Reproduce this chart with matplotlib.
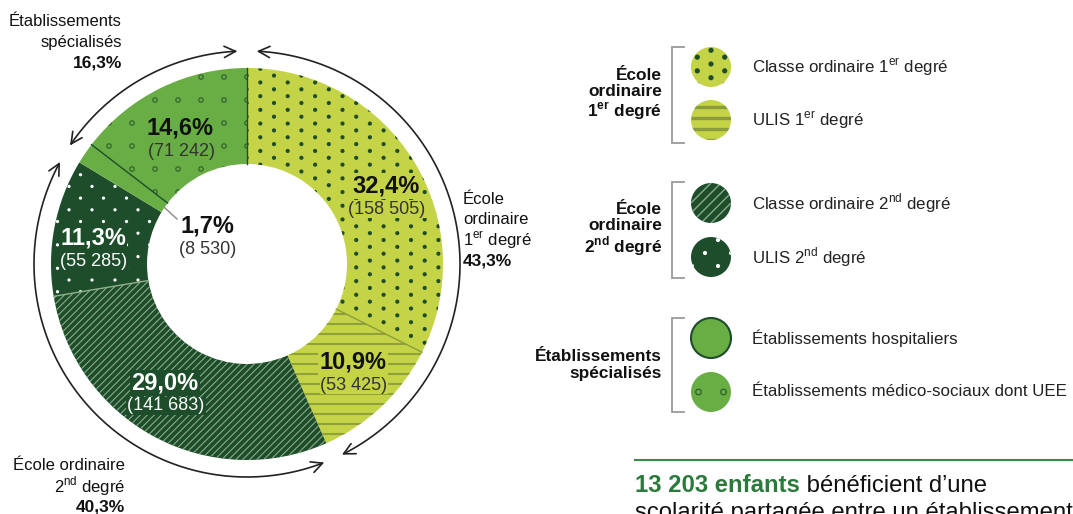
import matplotlib.pyplot as plt
import numpy as np
from matplotlib.patches import Circle, FancyArrowPatch
from matplotlib.path import Path
from matplotlib.collections import LineCollection

plt.rcParams['font.family'] = ['Liberation Sans', 'DejaVu Sans']
plt.rcParams['mathtext.fontset'] = 'custom'
plt.rcParams['mathtext.rm'] = 'Liberation Sans'
plt.rcParams['mathtext.bf'] = 'Liberation Sans:bold'

W, H = 1073, 514

# --- data -------------------------------------------------------------
categories = ['Classe ordinaire 1$^{\\mathrm{er}}$ degré', 'ULIS 1$^{\\mathrm{er}}$ degré',
              'Classe ordinaire 2$^{\\mathrm{nd}}$ degré', 'ULIS 2$^{\\mathrm{nd}}$ degré',
              'Établissements hospitaliers', 'Établissements médico-sociaux dont UEE']
effectifs = [158505, 53425, 141683, 55285, 8530, 71242]
pourcentages = ['32,4%', '10,9%', '29,0%', '11,3%', '1,7%', '14,6%']
effectifs_txt = ['(158 505)', '(53 425)', '(141 683)', '(55 285)', '(8 530)', '(71 242)']

groupes = ['École\nordinaire\n1$^{\\mathbf{er}}$ degré',
           'École\nordinaire\n2$^{\\mathbf{nd}}$ degré',
           'Établissements\nspécialisés']
groupes_externes = [['École', 'ordinaire', '1$^{\\mathrm{er}}$ degré'],
                    ['École ordinaire', '2$^{\\mathrm{nd}}$ degré'],
                    ['Établissements', 'spécialisés']]
groupes_pct = ['43,3%', '40,3%', '16,3%']
groupes_membres = [[0, 1], [2, 3], [4, 5]]

note_chiffre = '13 203 enfants'
note_suite = ' bénéficient d’une'
note_ligne2 = 'scolarité partagée entre un établissement'

# --- styles -----------------------------------------------------------
CLAIR = '#c5d447'
MOYEN = '#69ad45'
FONCE = '#1d4d2a'
couleurs = [CLAIR, CLAIR, FONCE, FONCE, MOYEN, MOYEN]
couleurs_txt = ['#111111', '#111111', 'white', 'white', '#111111', '#111111']
bordures = ['#8a9c3c', None, '#8fae8c', None, FONCE, FONCE]


def Y(py):
    return H - py


def grille(bbox, dx, dy, ox=0.0, oy=0.0, decale=True):
    pts = []
    j0 = int(np.floor((bbox.y0 - oy) / dy)) - 1
    j1 = int(np.ceil((bbox.y1 - oy) / dy)) + 1
    for j in range(j0, j1 + 1):
        y = oy + j * dy
        dec = (j % 2) * dx / 2 if decale else 0.0
        i0 = int(np.floor((bbox.x0 - ox) / dx)) - 1
        i1 = int(np.ceil((bbox.x1 - ox) / dx)) + 1
        for i in range(i0, i1 + 1):
            pts.append((ox + i * dx + dec, y))
    return np.array(pts)


def emprise(patch):
    return patch.get_path().transformed(patch.get_patch_transform()).get_extents()


def points(ax, patch, dx, dy, taille, face, bord='none', lw=0, ox=0.0, oy=0.0, decale=True):
    p = grille(emprise(patch), dx, dy, ox, oy, decale)
    sc = ax.scatter(p[:, 0], p[:, 1], s=taille, c=face, edgecolors=bord,
                    linewidths=lw, zorder=patch.get_zorder() + 0.1)
    sc.set_clip_path(patch)


def rayures(ax, patch, pas, couleur, lw, diag=False):
    b = emprise(patch)
    if diag:
        cs = np.arange(b.y0 - b.x1 - pas, b.y1 - b.x0 + pas, pas)
        segs = [[(b.x0, b.x0 + c), (b.x1, b.x1 + c)] for c in cs]
    else:
        ys = np.arange(np.floor(b.y0 / pas) * pas, b.y1 + pas, pas)
        segs = [[(b.x0, y), (b.x1, y)] for y in ys]
    lc = LineCollection(segs, colors=couleur, linewidths=lw,
                        zorder=patch.get_zorder() + 0.1)
    ax.add_collection(lc)
    lc.set_clip_path(patch)


fig = plt.figure(figsize=(W / 100, H / 100), dpi=100)
ax = fig.add_axes([0, 0, 1, 1])

cx, cy = 247, Y(264)
R, R_IN, R_ARC = 196, 100, 213
total = sum(effectifs)

wedges, _ = ax.pie(effectifs, radius=R, center=(cx, cy), startangle=90,
                   counterclock=False, colors=couleurs,
                   wedgeprops=dict(width=R - R_IN, linewidth=0))
ax.set_xlim(0, W)
ax.set_ylim(0, H)
ax.axis('off')

# slice textures
points(ax, wedges[0], 27.4, 6.85, 9, FONCE)
rayures(ax, wedges[1], 10, '#90a13b', 1.5)
rayures(ax, wedges[2], 7, '#92b190', 0.75, diag=True)
points(ax, wedges[3], 23, 11.7, 5.5, 'white')
points(ax, wedges[5], 23, 23, 10, 'none', bord='#2f5e2c', lw=0.8, ox=cx, decale=False)

# boundaries between slices
cum = np.cumsum(effectifs) / total
for k, c in enumerate(cum):
    if bordures[k] is None:
        continue
    t = np.radians(90 - 360 * c)
    ax.plot([cx + R_IN * np.cos(t), cx + R * np.cos(t)],
            [cy + R_IN * np.sin(t), cy + R * np.sin(t)],
            color=bordures[k], lw=1.0, zorder=3)

# slice labels
pos_labels = [(386, 186), (353, 362), (165, 383), (93, 238), (207, 226), (180, 128)]
for k, (px, py) in enumerate(pos_labels):
    fond = couleurs[k] if k != 4 else 'white'
    ax.text(px, Y(py), pourcentages[k], ha='center', va='center', fontsize=17,
            fontweight='bold', color=couleurs_txt[k], zorder=5,
            bbox=dict(boxstyle='square,pad=0.05', fc=fond, ec='none'))
    ax.text(px + 1, Y(py + 23), effectifs_txt[k], ha='center', va='center',
            fontsize=13, color=couleurs_txt[k] if k in (2, 3) else '#333333',
            zorder=5, bbox=dict(boxstyle='square,pad=0.05', fc=fond, ec='none'))

# leader line for the small slice
debut = cum[3]
t = np.radians(90 - 360 * (debut + (cum[4] - debut) / 2))
ax.plot([cx + R_IN * np.cos(t), 177], [cy + R_IN * np.sin(t), Y(219)],
        color='#8a8a8a', lw=1.0, zorder=4)

# outer arrows for the three groups
bornes = [0.0] + [sum(effectifs[i] for i in g) for g in groupes_membres]
bornes = np.cumsum(bornes) / total
gap = 2.6
for g in range(3):
    a0 = 360 * bornes[g] + gap
    a1 = 360 * bornes[g + 1] - gap
    th = np.radians(90 - np.linspace(a0, a1, 120))
    arc = Path(np.column_stack([cx + R_ARC * np.cos(th), cy + R_ARC * np.sin(th)]))
    ax.add_patch(FancyArrowPatch(path=arc, arrowstyle='<->,head_length=0.9,head_width=0.45',
                                 mutation_scale=9, lw=1.2, color='#222222', zorder=4))

# outer group labels
ext_pos = [(463, 199, 'left'), (125, 466, 'right'), (122, 22, 'right')]
for g, (px, py, ha) in enumerate(ext_pos):
    lignes = groupes_externes[g]
    for i, l in enumerate(lignes):
        ax.text(px, Y(py + 20.5 * i), l, ha=ha, va='center', fontsize=12, color='#111111')
    ax.text(px, Y(py + 20.5 * len(lignes)), groupes_pct[g], ha=ha, va='center',
            fontsize=12.5, fontweight='bold', color='#111111')

# legend
leg_y = [67, 120, 203, 257, 338, 392]
leg_x = 711
for k, py in enumerate(leg_y):
    c = Circle((leg_x, Y(py)), 20, fc=couleurs[k],
               ec=FONCE if k == 4 else 'none', lw=1.5 if k == 4 else 0, zorder=3)
    ax.add_patch(c)
    if k == 0:
        points(ax, c, 27.4, 6.85, 14, FONCE, ox=leg_x, oy=Y(py) + 3)
    elif k == 1:
        rayures(ax, c, 11, '#8a9c3c', 2.4)
    elif k == 2:
        rayures(ax, c, 10, '#8cab8a', 1.0, diag=True)
    elif k == 3:
        points(ax, c, 26, 13, 9, 'white', ox=leg_x - 6, oy=Y(py) + 4)
    elif k == 5:
        points(ax, c, 25, 200, 16, 'none', bord='#2f5e2c', lw=0.9,
               ox=leg_x - 12.5, oy=Y(py), decale=False)
    ax.text(752, Y(py), categories[k], ha='left', va='center', fontsize=12.2,
            color='#222222')

crochets = [(47, 143), (182, 278), (318, 412)]
for g, (y0, y1) in enumerate(crochets):
    ax.plot([684, 672, 672, 684], [Y(y0), Y(y0), Y(y1), Y(y1)],
            color='#9a9a9a', lw=1.3, solid_joinstyle='miter')
    ax.text(662, Y((y0 + y1) / 2), groupes[g], ha='right', va='center',
            multialignment='right', fontsize=12.4, fontweight='bold',
            color='#111111', linespacing=1.1)

# note at the bottom
ax.plot([635, W], [Y(460), Y(460)], color='#3a8a4a', lw=1.5)
t1 = ax.text(635, Y(497), note_chiffre, ha='left', va='bottom', fontsize=17.2,
             fontweight='bold', color='#2b7a3b')
ax.annotate(note_suite, xy=(1, 0), xycoords=t1, ha='left', va='bottom',
            fontsize=17.2, color='#111111')
ax.text(635, Y(524), note_ligne2, ha='left', va='bottom', fontsize=17.2,
        color='#111111')

fig.savefig('out.png', dpi=100)
